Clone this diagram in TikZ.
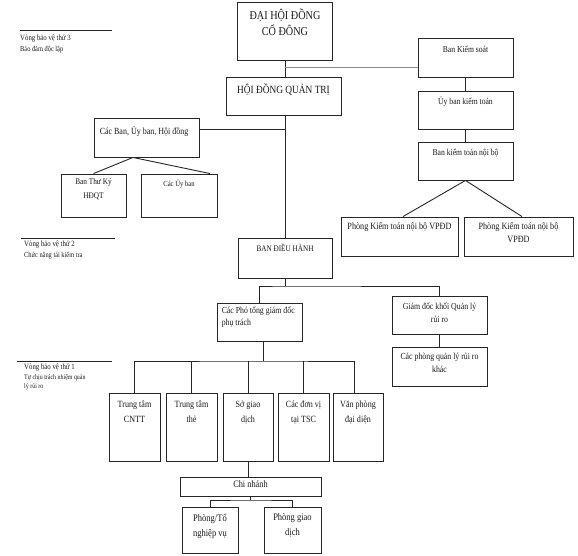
\documentclass[tikz,border=0pt]{standalone}
\usepackage{fontspec}
\setmainfont[FakeStretch=0.85]{Liberation Serif}
\newcommand\fsz[2]{\fontsize{#1}{#2}\selectfont}
\tikzset{
  box/.style={draw=black!85, line width=0.9pt, fill=white, inner sep=0pt},
  txt/.style={align=center, inner sep=0pt, text=black!90},
  conn/.style={draw=black!85, line width=0.9pt},
  grayconn/.style={draw=black!45, line width=0.8pt},
  sidetxt/.style={align=left, inner sep=0pt, anchor=north west, text=black!90},
}
\begin{document}
\begin{tikzpicture}[x=1pt, y=-1pt]
\useasboundingbox (0,0) rectangle (578,555);

% left side labels
\draw[conn] (20,30) -- (112,30);
\node[sidetxt, font=\fsz{7.5}{11}] (lab3) at (20,35) {\fsz{8}{11}Vòng bảo vệ thứ 3\\Bảo đảm độc lập};
\draw[conn] (21,238) -- (115,238);
\node[sidetxt, font=\fsz{7.5}{11}] (lab2) at (24,241) {\fsz{8}{11}Vòng bảo vệ thứ 2\\Chức năng tái kiểm tra};
\draw[conn] (17,361) -- (112,361);
\node[sidetxt, font=\fsz{7}{9.5}] (lab1) at (24,364) {\fsz{8}{9.5}Vòng bảo vệ thứ 1\\Tự chịu trách nhiệm quản\\lý rủi ro};

% boxes
\node[box, minimum width=95pt, minimum height=58pt,
  label={[txt, anchor=north, yshift=-7pt, font=\fsz{12}{16}]north:{ĐẠI HỘI ĐỒNG\\CỔ ĐÔNG}}] (dhdcd) at (285,31) {};
\node[box, minimum width=115pt, minimum height=38pt,
  label={[txt, anchor=north, yshift=-7pt, font=\fsz{11}{14}]north:{HỘI ĐỒNG QUẢN  TRỊ}}] (hdqt) at (283.5,96) {};
\node[box, minimum width=95pt, minimum height=39pt,
  label={[txt, anchor=north, yshift=-8pt, font=\fsz{9}{12}]north:{Ban Kiểm soát}}] (bks) at (465.5,57.5) {};
\node[box, minimum width=95pt, minimum height=38pt,
  label={[txt, anchor=north, yshift=-6pt, font=\fsz{9}{12}]north:{Ủy ban kiểm toán}}] (ubkt) at (465.5,110) {};
\node[box, minimum width=95pt, minimum height=38pt,
  label={[txt, anchor=north, yshift=-7pt, font=\fsz{9}{12}]north:{Ban kiểm toán nội bộ}}] (bktnb) at (465.5,161) {};
\node[box, minimum width=117pt, minimum height=39pt,
  label={[txt, anchor=north, yshift=-5.5pt, font=\fsz{9.6}{13}]north:{Phòng Kiểm toán nội bộ VPĐD}}] (pk1) at (399.5,236.5) {};
\node[box, minimum width=109pt, minimum height=39pt,
  label={[txt, anchor=north, yshift=-5.5pt, font=\fsz{9.6}{13}]north:{Phòng Kiểm toán nội bộ\\VPĐD}}] (pk2) at (518.5,236.5) {};
\node[box, minimum width=105pt, minimum height=39pt,
  label={[txt, anchor=north west, yshift=-9pt, xshift=6pt, font=\fsz{9.4}{12}]north west:{Các Ban, Ủy ban, Hội đồng}}] (cacban) at (146.5,137.5) {};
\node[box, minimum width=65pt, minimum height=43pt,
  label={[txt, anchor=north, yshift=-5pt, font=\fsz{8.6}{14}]north:{Ban Thư Ký\\HĐQT}}] (btk) at (93.5,195.5) {};
\node[box, minimum width=76pt, minimum height=43pt,
  label={[txt, anchor=north, yshift=-6pt, font=\fsz{7.8}{12}]north:{Các Ủy ban}}] (cuy) at (179,195.5) {};
\node[box, minimum width=94pt, minimum height=40pt,
  label={[txt, anchor=north, yshift=-6.5pt, font=\fsz{8.5}{12}]north:{BAN ĐIỀU HÀNH}}] (bdh) at (285,258) {};
\node[box, minimum width=85pt, minimum height=38pt,
  label={[txt, align=left, anchor=north west, yshift=-4.5pt, xshift=5pt, font=\fsz{9.2}{12}]north west:{Các Phó tổng giám đốc\\phụ trách}}] (pho) at (259.5,322) {};
\node[box, minimum width=95pt, minimum height=38pt,
  label={[txt, anchor=north, yshift=-7pt, font=\fsz{9.2}{13}]north:{Giám đốc khối Quản lý\\rủi ro}}] (gdk) at (439.5,315) {};
\node[box, minimum width=95pt, minimum height=39pt,
  label={[txt, anchor=north, yshift=-6.5pt, font=\fsz{9.2}{12.5}]north:{Các phòng quản lý rủi ro\\khác}}] (cpq) at (439.5,366.5) {};
\node[box, minimum width=51pt, minimum height=68pt,
  label={[txt, anchor=north, yshift=-8pt, font=\fsz{9.5}{15}]north:{Trung tâm\\CNTT}}] (ttc) at (134.5,427) {};
\node[box, minimum width=51pt, minimum height=68pt,
  label={[txt, anchor=north, yshift=-8pt, font=\fsz{9.5}{15}]north:{Trung tâm\\thẻ}}] (ttt) at (191.5,427) {};
\node[box, minimum width=50pt, minimum height=68pt,
  label={[txt, anchor=north, yshift=-8pt, font=\fsz{9.5}{15}]north:{Sở giao\\dịch}}] (sgd) at (248,427) {};
\node[box, minimum width=51pt, minimum height=68pt,
  label={[txt, anchor=north, yshift=-8pt, font=\fsz{9.5}{15}]north:{Các đơn vị\\tại TSC}}] (cdv) at (303.5,427) {};
\node[box, minimum width=50pt, minimum height=68pt,
  label={[txt, anchor=north, yshift=-8pt, font=\fsz{9.5}{15}]north:{Văn phòng\\đại diện}}] (vpd) at (358,427) {};
\node[box, minimum width=141pt, minimum height=19pt,
  label={[txt, anchor=north, yshift=-4pt, font=\fsz{9.8}{15}]north:{Chi nhánh}}] (cn) at (250.5,486.5) {};
\node[box, minimum width=56pt, minimum height=46pt,
  label={[txt, anchor=north, yshift=-7pt, font=\fsz{10}{15}]north:{Phòng/Tổ\\nghiệp vụ}}] (ptt) at (210,530) {};
\node[box, minimum width=57pt, minimum height=46pt,
  label={[txt, anchor=north, yshift=-7pt, font=\fsz{10}{15}]north:{Phòng giao\\dịch}}] (pgd) at (292.5,530) {};

% connectors
\coordinate (j1) at (285,67);
\coordinate (j2) at (285,129);
\coordinate (j3) at (285,286);
\coordinate (j4) at (263,361);
\coordinate (j5) at (250.5,500);

\draw[conn] (dhdcd.south) -- (dhdcd.south |- hdqt.north);
\draw[grayconn] (j1) -- (j1 -| bks.west);
\draw[conn] (bdh.north) -- (bdh.north |- hdqt.south);
\draw[conn] (j2) -- (j2 -| cacban.east);
\draw[conn] ([xshift=-13.5pt]cacban.south) -- (btk.north);
\draw[conn] ([xshift=-13.5pt]cacban.south) -- ([xshift=31pt]cuy.north);

\draw[conn] (bks.south) -- (ubkt.north);
\draw[conn] (ubkt.south) -- (bktnb.north);
\draw[conn] (bktnb.south) -- ([xshift=3.5pt]pk1.north);
\draw[conn] (bktnb.south) -- ([xshift=3.5pt]pk2.north);

\draw[conn] (bdh.south) -- (j3);
\draw[conn] (pho.north) |- (j3) -| (gdk.north);
\draw[conn] (gdk.south) -- (cpq.north);

\draw[conn] (pho.south -| j4) -- (j4);
\draw[conn] (ttc.north) |- (j4) -| ([xshift=-4pt]vpd.north);
\draw[conn] (ttt.north) -- (ttt.north |- j4);
\draw[conn] (sgd.north) -- (sgd.north |- j4);
\draw[conn] (cdv.north) -- (cdv.north |- j4);

\draw[conn] (sgd.south) -- (sgd.south |- cn.north);
\draw[conn] (cn.south) -- (j5);
\draw[conn] (ptt.north) |- (j5) -| (pgd.north);
\end{tikzpicture}
\end{document}
